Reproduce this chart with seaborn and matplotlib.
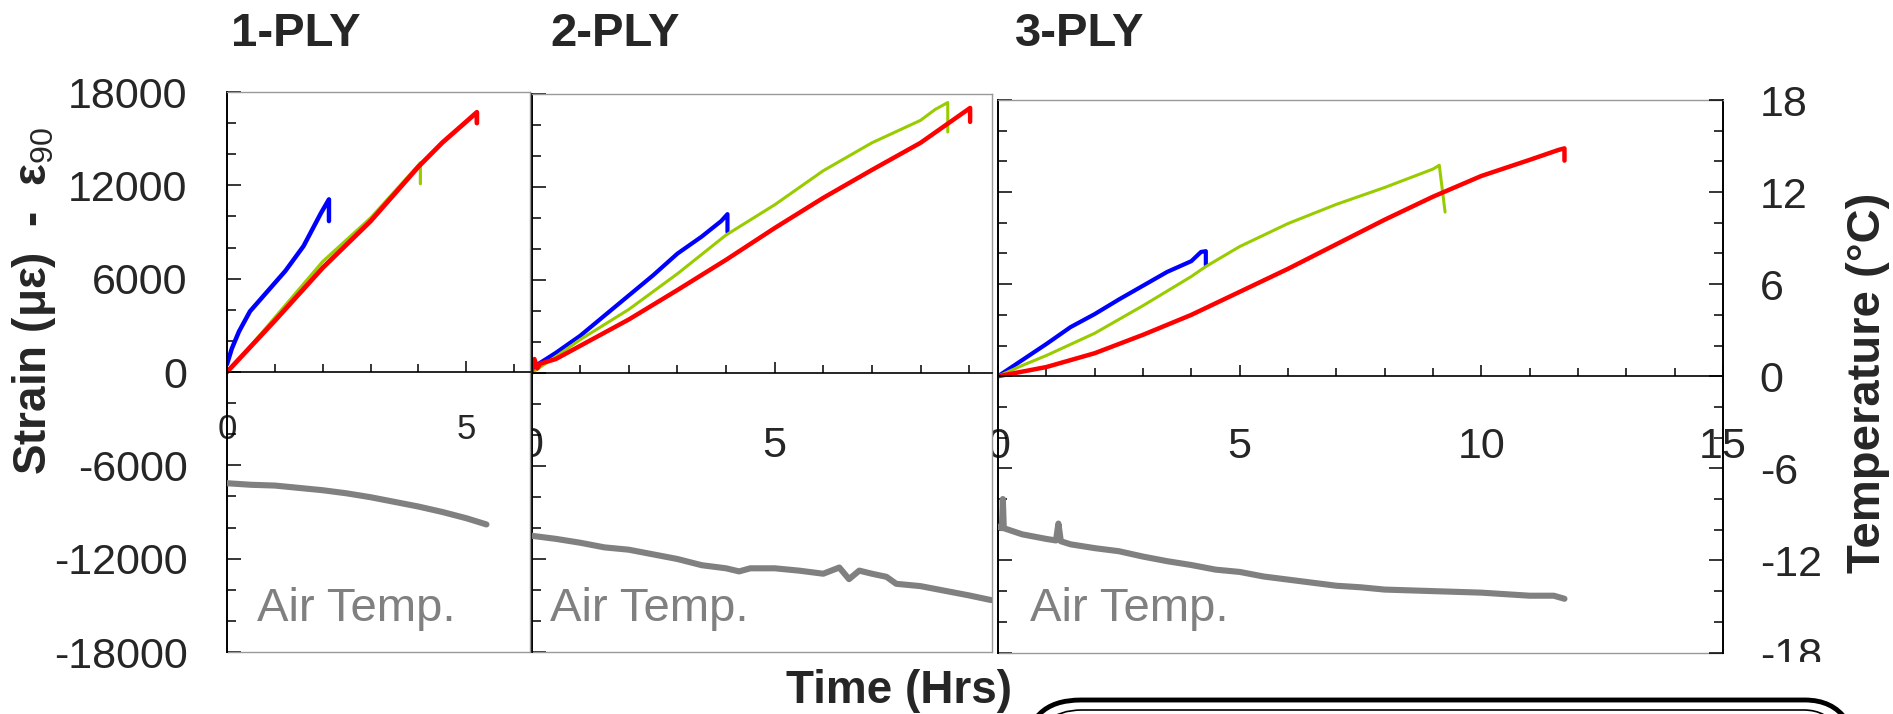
import numpy as np
import pandas as pd
import matplotlib
matplotlib.use("Agg")
import matplotlib.pyplot as plt
import seaborn as sns
from matplotlib.ticker import MultipleLocator, StrMethodFormatter
from matplotlib.patches import FancyBboxPatch, Rectangle

# ---- values: time (hrs), strain (microstrain), air temp (C)
# 1-PLY
t1_blue = [0, 0.1, 0.25, 0.48, 0.85, 1.22, 1.6, 1.96, 2.13, 2.13]
s1_blue = [500, 1500, 2600, 3900, 5200, 6500, 8100, 10200, 11100, 9700]
t1_green = [0, 0.5, 1, 1.5, 2, 2.5, 3, 3.5, 4.0, 4.04, 4.04]
s1_green = [0, 1700, 3500, 5300, 7100, 8500, 9900, 11600, 13300, 13450, 12100]
t1_red = [0, 1, 2, 3, 4, 4.5, 5, 5.22, 5.22]
s1_red = [0, 3300, 6700, 9700, 13200, 14750, 16100, 16700, 16000]
t1_air = [0, 0.5, 1, 1.5, 2, 2.5, 3, 3.5, 4, 4.5, 5, 5.42]
T1_air = [-7.15, -7.25, -7.3, -7.45, -7.6, -7.8, -8.05, -8.35, -8.65, -9.0, -9.4, -9.8]

# 2-PLY
t2_blue = [0, 0.1, 0.5, 1, 1.5, 2, 2.5, 3, 3.5, 3.9, 4.03, 4.03]
s2_blue = [0, 500, 1300, 2400, 3700, 5000, 6300, 7700, 8800, 9800, 10250, 9100]
t2_green = [0, 0.5, 1, 2, 3, 4, 5, 6, 7, 8, 8.3, 8.56, 8.56]
s2_green = [0, 1050, 2150, 4100, 6400, 8900, 10850, 13050, 14850, 16300, 17000, 17450, 15550]
t2_red = [0, 0.06, 0.12, 0.18, 0.5, 1, 2, 3, 4, 5, 6, 7, 8, 9.02, 9.02]
s2_red = [0, 900, 300, 600, 900, 1750, 3450, 5350, 7300, 9350, 11300, 13100, 14850, 17100, 16200]
t2_air = [0, 0.5, 1, 1.5, 2, 2.5, 3, 3.5, 4, 4.27, 4.5, 5, 5.5, 6, 6.33, 6.53, 6.74,
          7, 7.3, 7.5, 8, 8.5, 9, 9.45]
T2_air = [-10.5, -10.7, -10.95, -11.25, -11.4, -11.7, -12.0, -12.4, -12.6, -12.8, -12.6,
          -12.6, -12.75, -12.95, -12.55, -13.3, -12.75, -12.95, -13.15, -13.6, -13.75,
          -14.05, -14.35, -14.65]

# 3-PLY
t3_blue = [0, 0.5, 1, 1.5, 2, 2.5, 3, 3.5, 4, 4.2, 4.3, 4.3]
s3_blue = [0, 1050, 2100, 3200, 4050, 5000, 5900, 6800, 7500, 8100, 8150, 7250]
t3_green = [0, 0.5, 1, 2, 3, 4, 4.3, 5, 6, 7, 8, 9, 9.13, 9.25]
s3_green = [0, 700, 1350, 2800, 4600, 6500, 7150, 8450, 9950, 11200, 12300, 13500, 13750, 10700]
t3_red = [0, 1, 2, 3, 4, 5, 6, 7, 8, 9, 10, 11, 11.6, 11.72, 11.72]
s3_red = [0, 600, 1500, 2700, 4000, 5500, 7000, 8600, 10200, 11700, 13050, 14100, 14750, 14850, 14050]
t3_air = [0, 0.08, 0.1, 0.12, 0.5, 1, 1.2, 1.25, 1.3, 1.5, 2, 2.5, 3, 3.5, 4, 4.5, 5,
          5.5, 6, 6.5, 7, 7.5, 8, 8.5, 9, 9.5, 10, 10.5, 11, 11.5, 11.72]
T3_air = [-9.8, -9.9, -8.0, -9.9, -10.3, -10.6, -10.7, -9.6, -10.75, -10.95, -11.2, -11.4,
          -11.75, -12.05, -12.3, -12.6, -12.75, -13.05, -13.25, -13.45, -13.65, -13.75,
          -13.9, -13.95, -14.0, -14.05, -14.1, -14.2, -14.3, -14.3, -14.5]

titles = ["1-PLY", "2-PLY", "3-PLY"]
x_max = [6.33, 9.47, 15]

BLUE, GREEN, RED, GREY = "#0000FF", "#99CC00", "#FF0000", "#808080"

sns.set_style("white")
plt.rcParams["font.family"] = ["Liberation Sans", "DejaVu Sans"]
plt.rcParams["axes.unicode_minus"] = False
plt.rcParams["mathtext.fontset"] = "custom"
plt.rcParams["mathtext.rm"] = "Liberation Sans"
plt.rcParams["mathtext.it"] = "Liberation Sans:italic"
plt.rcParams["mathtext.bf"] = "Liberation Sans:bold"

W, H = 1893, 714
fig = plt.figure(figsize=(W / 100, H / 100), dpi=100)
fig.patch.set_facecolor("white")


def rect(l, r, t, b):
    return [l / W, 1 - b / H, (r - l) / W, (b - t) / H]


def draw_panel(box, xmax, lines, t_air, T_air, zo, xsize, xpad, first, last):
    ax = fig.add_axes(rect(*box))
    ax.set_zorder(zo)
    for t, s, c, lw in lines:
        sns.lineplot(x=t, y=s, ax=ax, color=c, linewidth=lw, estimator=None, sort=False)
    ax.set_xlim(0, xmax)
    ax.set_ylim(-18000, 18000)
    ax.set_xlabel("")
    ax.set_ylabel("")

    ax.spines["bottom"].set_position(("data", 0))
    ax.spines["bottom"].set_color("black")
    ax.spines["bottom"].set_linewidth(1.2)
    ax.spines["left"].set_color("black")
    ax.spines["left"].set_linewidth(1.4)
    ax.spines["top"].set_color("#999999")
    ax.spines["top"].set_linewidth(1.0)
    ax.spines["right"].set_color("black" if last else "#999999")
    ax.spines["right"].set_linewidth(1.4 if last else 1.0)
    ax.axhline(-18000, color="#999999", lw=1.0, clip_on=False)

    ax.xaxis.set_major_locator(MultipleLocator(5))
    ax.xaxis.set_minor_locator(MultipleLocator(1))
    ax.yaxis.set_major_locator(MultipleLocator(6000))
    ax.yaxis.set_minor_locator(MultipleLocator(2000))
    ax.yaxis.set_major_formatter(StrMethodFormatter("{x:.0f}"))
    ax.tick_params(axis="x", which="both", direction="in", bottom=True, top=False,
                   width=1.1, color="black", labelsize=xsize, pad=xpad)
    ax.tick_params(axis="x", which="major", length=8)
    ax.tick_params(axis="x", which="minor", length=5.5)
    ax.tick_params(axis="y", which="both", direction="in", left=True, right=False,
                   width=1.1, color="black", labelsize=31, pad=28.5, labelleft=first)
    ax.tick_params(axis="y", which="major", length=10)
    ax.tick_params(axis="y", which="minor", length=6.7)

    tw = ax.twinx()
    tw.set_zorder(zo + 1)
    sns.lineplot(x=t_air, y=T_air, ax=tw, color=GREY, linewidth=4.4, estimator=None, sort=False)
    tw.set_ylim(-18, 18)
    tw.set_ylabel("")
    for sp in tw.spines.values():
        sp.set_visible(False)
    tw.yaxis.set_major_locator(MultipleLocator(6))
    tw.yaxis.set_minor_locator(MultipleLocator(2))
    tw.yaxis.set_major_formatter(StrMethodFormatter("{x:.0f}"))
    if last:
        tw.tick_params(axis="y", which="both", direction="in", right=True, width=1.1,
                       color="black", labelsize=31, pad=26.5)
        tw.tick_params(axis="y", which="major", length=10)
        tw.tick_params(axis="y", which="minor", length=6.7)
    else:
        tw.tick_params(axis="y", which="both", right=False, labelright=False)
    return ax


lines1 = [(t1_blue, s1_blue, BLUE, 3.2), (t1_green, s1_green, GREEN, 2.3), (t1_red, s1_red, RED, 3.4)]
lines2 = [(t2_blue, s2_blue, BLUE, 3.0), (t2_green, s2_green, GREEN, 2.2), (t2_red, s2_red, RED, 3.2)]
lines3 = [(t3_blue, s3_blue, BLUE, 3.0), (t3_green, s3_green, GREEN, 2.2), (t3_red, s3_red, RED, 3.2)]

# drawn right to left so each panel hides the half "0" of the next one
draw_panel((998, 1723, 100, 652.5), x_max[2], lines3, t3_air, T3_air, 1, 31, 36.5, False, True)
draw_panel((531.5, 992, 94, 652), x_max[1], lines2, t2_air, T2_air, 3, 31, 38, False, False)
draw_panel((227, 530, 92, 652), x_max[0], lines1, t1_air, T1_air, 5, 25, 29.5, True, False)

# panel titles and in-panel labels
for x, txt in zip([231, 550, 1015], titles):
    fig.text(x / W, 1 - 45.5 / H, txt, fontsize=34, fontweight="bold", va="baseline", zorder=20)
for x in [257, 550, 1030]:
    fig.text(x / W, 1 - 621 / H, "Air Temp.", fontsize=34, color=GREY, va="baseline", zorder=20)

fig.text(786 / W, 1 - 703 / H, "Time (Hrs)", fontsize=33, fontweight="bold", va="baseline", zorder=20)
fig.text(34 / W, 1 - 301 / H, r"Strain (με)  -  ε$_{90}$", rotation=90, ha="center",
         va="center", fontsize=33, fontweight="bold", zorder=20)
fig.text(1868 / W, 1 - 383 / H, "Temperature (°C)", rotation=90, ha="center",
         va="center", fontsize=34, fontweight="bold", zorder=20)

# bottom edge of the picture: -18 label cut off and top of a rounded legend frame
fig.patches.append(Rectangle((1745, 0), 105, H - 662, transform=None, fc="white",
                             ec="none", zorder=30))
fig.patches.append(FancyBboxPatch((1026, -120), 834, 120 + H - 700, transform=None,
                                  boxstyle="round,pad=0,rounding_size=55", fc="none",
                                  ec="black", lw=3.5, zorder=31))
fig.patches.append(FancyBboxPatch((1036, -120), 814, 120 + H - 710, transform=None,
                                  boxstyle="round,pad=0,rounding_size=46", fc="none",
                                  ec="black", lw=1.2, zorder=31))

fig.savefig("out.png", dpi=100, facecolor="white")
